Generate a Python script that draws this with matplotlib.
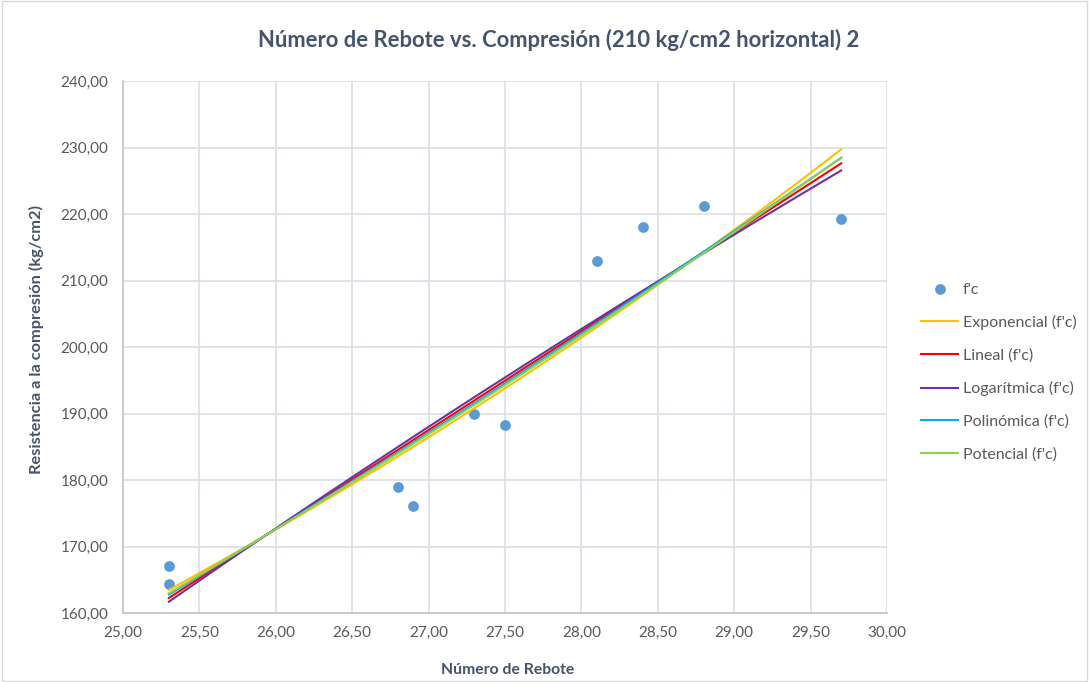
import numpy as np
import matplotlib
matplotlib.use("Agg")
import matplotlib.pyplot as plt
from matplotlib.ticker import FuncFormatter, MultipleLocator
from matplotlib.patches import Rectangle

# Data
rebote = [25.3, 25.3, 26.8, 26.9, 27.3, 27.5, 28.1, 28.4, 28.8, 29.7]
fc = [167.0, 164.3, 179.0, 176.1, 190.0, 188.3, 212.9, 218.0, 221.2, 219.2]

title = "Número de Rebote vs. Compresión (210 kg/cm2 horizontal) 2"
xlabel = "Número de Rebote"
ylabel = "Resistencia a la compresión (kg/cm2)"
trend_names = ["Exponencial (f'c)", "Lineal (f'c)", "Logarítmica (f'c)",
               "Polinómica (f'c)", "Potencial (f'c)"]
trend_colors = ["#FFC000", "#FF0000", "#7030A0", "#00B0F0", "#92D050"]

plt.rcParams['font.family'] = ['Lato', 'DejaVu Sans']

x = np.array(rebote)
y = np.array(fc)
xs = np.linspace(x.min(), x.max(), 200)

# Excel-style trendlines (least-squares fits of the data)
b_exp, a_exp = np.polyfit(x, np.log(y), 1)
exp_y = np.exp(a_exp) * np.exp(b_exp * xs)
lin = np.polyfit(x, y, 1)
lin_y = np.polyval(lin, xs)
lg = np.polyfit(np.log(x), y, 1)
log_y = np.polyval(lg, np.log(xs))
poly = np.polyfit(x, y, 2)
poly_y = np.polyval(poly, xs)
pw = np.polyfit(np.log(x), np.log(y), 1)
pow_y = np.exp(pw[1]) * xs ** pw[0]
trend_vals = [exp_y, lin_y, log_y, poly_y, pow_y]

fig = plt.figure(figsize=(10.89, 6.82), dpi=100)
ax = fig.add_axes([123/1089, 1-613/682, (887-123)/1089, (613-81)/682])

text_col = "#595959"
title_col = "#44546A"

ax.scatter(x, y, s=60, color="#5B9BD5", zorder=3, label="f'c", linewidths=0)
for vals, name, col in zip(trend_vals, trend_names, trend_colors):
    ax.plot(xs, vals, color=col, lw=1.5, label=name, zorder=4)

ax.set_xlim(25, 30)
ax.set_ylim(160, 240)
ax.xaxis.set_major_locator(MultipleLocator(0.5))
ax.yaxis.set_major_locator(MultipleLocator(10))
fmt = FuncFormatter(lambda v, p: f"{v:.2f}".replace(".", ","))
ax.xaxis.set_major_formatter(fmt)
ax.yaxis.set_major_formatter(fmt)
ax.grid(True, color="#D9DEE6", lw=1.2, zorder=0)
ax.set_axisbelow(True)
for s in ["top", "right"]:
    ax.spines[s].set_visible(False)
for s in ["left", "bottom"]:
    ax.spines[s].set_color("#BFC5CE")
    ax.spines[s].set_linewidth(1.2)
ax.tick_params(length=0, labelsize=11, labelcolor=text_col)
ax.tick_params(axis="y", pad=10.5)
ax.tick_params(axis="x", pad=9.5)

ax.set_xlabel(xlabel, fontsize=11.3, fontweight="bold", color=title_col)
ax.set_ylabel(ylabel, fontsize=11.8, fontweight="bold", color=title_col)
ax.xaxis.set_label_coords((508-123)/764, -(663-613)/532)
ax.yaxis.set_label_coords(-(123-44)/764, (613-339)/532)
fig.text(559/1089, 1-40/682, title, ha="center", va="center", fontsize=15.8,
         fontweight="bold", color=title_col)

leg = ax.legend(loc="center left", bbox_to_anchor=(915/1089, 1-372/682),
                bbox_transform=fig.transFigure, frameon=False, fontsize=11.5,
                labelcolor=text_col, handlelength=2.3, handletextpad=0.3,
                labelspacing=1.15, borderaxespad=0)

fig.patches.append(Rectangle((0.0015, 0.002), 0.997, 0.996, transform=fig.transFigure,
                             fill=False, edgecolor="#D9D9D9", lw=1))

fig.savefig("out.png", dpi=100)
